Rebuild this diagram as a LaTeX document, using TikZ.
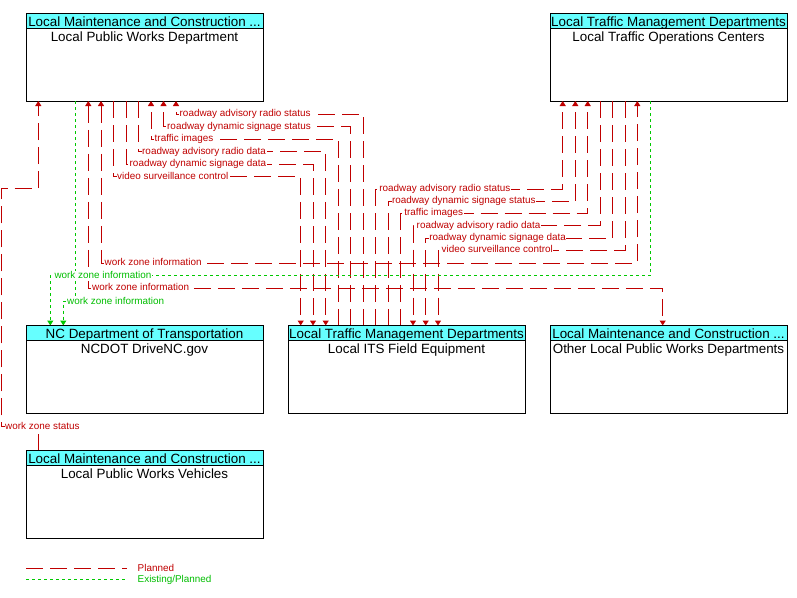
\documentclass[tikz,border=0pt]{standalone}
\usepackage{fontspec}
\setmainfont{Liberation Sans}
\usetikzlibrary{arrows.meta}
\definecolor{hdrcyan}{RGB}{102,255,255}
\definecolor{plred}{RGB}{192,0,0}
\definecolor{exgreen}{RGB}{0,200,0}
\definecolor{lblgreen}{RGB}{0,190,0}
\newcommand\hdrfont{\fontsize{13.4}{15}\selectfont}
\newcommand\lblfont{\fontsize{9.9}{11}\selectfont}
\begin{document}
\begin{tikzpicture}[x=1pt,y=-1pt,
  box/.style={draw=black,line width=1pt,minimum width=237pt,minimum height=88pt,anchor=north west,inner sep=0pt,outer sep=0pt},
  hdr/.style={draw=black,line width=1pt,fill=hdrcyan,minimum width=237pt,minimum height=15pt,anchor=north west,inner sep=0pt,outer sep=0pt,font=\hdrfont,text height=12.5pt,text depth=1.5pt},
  btext/.style={anchor=base,font=\hdrfont,inner sep=0pt,yshift=-28pt},
  planned/.style={draw=plred,line width=1pt,dash pattern=on 17pt off 7pt},
  existing/.style={draw=exgreen,line width=1pt,dash pattern=on 3pt off 3pt},
  tip/.style={-{Triangle[width=6pt,length=5pt]}},
  both/.style={{Triangle[width=6pt,length=5pt]}-{Triangle[width=6pt,length=5pt]}},
  rlbl/.style={anchor=west,fill=white,inner xsep=0.5pt,inner ysep=0.3pt,font=\lblfont,text=plred,text height=7pt,text depth=2pt},
  glbl/.style={rlbl,text=lblgreen},
  legtext/.style={anchor=west,inner sep=0.5pt,font=\lblfont},
]
\fill[white] (0,0) rectangle (797,597);
\useasboundingbox (0,0) rectangle (797,597);

% boxes (outlines)
\node[box] (lpwd) at (26,13) {};
\node[box] (toc) at (550,13) {};
\node[box] (ncdot) at (26,325.5) {};
\node[box] (its) at (288,325.5) {};
\node[box] (other) at (550,325.5) {};
\node[box] (veh) at (26,450.5) {};

% connectors: Local Public Works Vehicles -> LPWD
\draw[planned,tip] (38.3,0 |- veh.north) -- (38.3,426.5) -- (1.5,426.5) -- (1.5,188.3) -- (38.3,188.3) -- (38.3,0 |- lpwd.south);

% ITS <-> LPWD
\draw[planned,tip] (363,0 |- its.north) -- (363,114) -- (176,114) -- (176,0 |- lpwd.south);
\draw[planned,tip] (350.7,0 |- its.north) -- (350.7,126.5) -- (163.5,126.5) -- (163.5,0 |- lpwd.south);
\draw[planned,tip] (338,0 |- its.north) -- (338,139) -- (151,139) -- (151,0 |- lpwd.south);
\draw[planned,tip] (138.5,0 |- lpwd.south) -- (138.5,151.5) -- (325.7,151.5) -- (325.7,0 |- its.north);
\draw[planned,tip] (126,0 |- lpwd.south) -- (126,164) -- (313,164) -- (313,0 |- its.north);
\draw[planned,tip] (113.5,0 |- lpwd.south) -- (113.5,176.5) -- (300.7,176.5) -- (300.7,0 |- its.north);

% ITS <-> TOC
\draw[planned,tip] (375.7,0 |- its.north) -- (375.7,189) -- (562.7,189) -- (562.7,0 |- toc.south);
\draw[planned,tip] (388.3,0 |- its.north) -- (388.3,201) -- (575.3,201) -- (575.3,0 |- toc.south);
\draw[planned,tip] (400.7,0 |- its.north) -- (400.7,213.3) -- (587.7,213.3) -- (587.7,0 |- toc.south);
\draw[planned,tip] (600.3,0 |- toc.south) -- (600.3,225.7) -- (413,225.7) -- (413,0 |- its.north);
\draw[planned,tip] (612.5,0 |- toc.south) -- (612.5,238) -- (425.7,238) -- (425.7,0 |- its.north);
\draw[planned,tip] (625.3,0 |- toc.south) -- (625.3,250.3) -- (438,250.3) -- (438,0 |- its.north);

% work zone information LPWD <-> TOC, LPWD <-> Other
\draw[planned,both] (101,0 |- lpwd.south) -- (101,263.3) -- (637.3,263.3) -- (637.3,0 |- toc.south);
\draw[planned,both] (88.3,0 |- lpwd.south) -- (88.3,288.3) -- (662.7,288.3) -- (662.7,0 |- other.north);

% existing/planned to NCDOT
\draw[existing,tip] (650,0 |- toc.south) -- (650,275.7) -- (50.3,275.7) -- (50.3,0 |- ncdot.north);
\draw[existing,tip] (75.7,0 |- lpwd.south) -- (75.7,301.7) -- (63.3,301.7) -- (63.3,0 |- ncdot.north);

% labels
\node[rlbl] (l1) at (4.5,426.5) {work zone status};
\node[rlbl] (l2) at (179,114) {roadway advisory radio status};
\node[rlbl] (l3) at (166.5,126.5) {roadway dynamic signage status};
\node[rlbl] (l4) at (154,139) {traffic images};
\node[rlbl] (l5) at (141.5,151.5) {roadway advisory radio data};
\node[rlbl] (l6) at (129,164) {roadway dynamic signage data};
\node[rlbl] (l7) at (116.5,176.5) {video surveillance control};
\node[rlbl] (l8) at (378.7,189) {roadway advisory radio status};
\node[rlbl] (l9) at (391.3,201) {roadway dynamic signage status};
\node[rlbl] (l10) at (403.7,213.3) {traffic images};
\node[rlbl] (l11) at (416,225.7) {roadway advisory radio data};
\node[rlbl] (l12) at (428.7,238) {roadway dynamic signage data};
\node[rlbl] (l13) at (441,250.3) {video surveillance control};
\node[rlbl] (l14) at (104,263.3) {work zone information};
\node[rlbl] (l15) at (91.5,288.3) {work zone information};
\node[glbl] (l16) at (53.8,275.7) {work zone information};
\node[glbl] (l17) at (66.5,301.7) {work zone information};

% headers and names
\node[hdr] (lpwd-h) at (26,13) {Local Maintenance and Construction ...};
\node[btext] (lpwd-b) at (lpwd.north) {Local Public Works Department};
\node[hdr] (toc-h) at (550,13) {Local Traffic Management Departments};
\node[btext] (toc-b) at (toc.north) {Local Traffic Operations Centers};
\node[hdr] (ncdot-h) at (26,325.5) {NC Department of Transportation};
\node[btext] (ncdot-b) at (ncdot.north) {NCDOT DriveNC.gov};
\node[hdr] (its-h) at (288,325.5) {Local Traffic Management Departments};
\node[btext] (its-b) at (its.north) {Local ITS Field Equipment};
\node[hdr] (other-h) at (550,325.5) {Local Maintenance and Construction ...};
\node[btext] (other-b) at (other.north) {Other Local Public Works Departments};
\node[hdr] (veh-h) at (26,450.5) {Local Maintenance and Construction ...};
\node[btext] (veh-b) at (veh.north) {Local Public Works Vehicles};

% legend
\coordinate (lp1) at (26,568.3);
\coordinate (lp2) at (127,568.3);
\coordinate (le1) at (26,579.5);
\coordinate (le2) at (127,579.5);
\draw[planned] (lp1) -- (lp2);
\draw[existing] (le1) -- (le2);
\node[legtext,text=plred] (leg-p) at (137,568.3) {Planned};
\node[legtext,text=lblgreen] (leg-e) at (137,579.5) {Existing/Planned};
\end{tikzpicture}
\end{document}
